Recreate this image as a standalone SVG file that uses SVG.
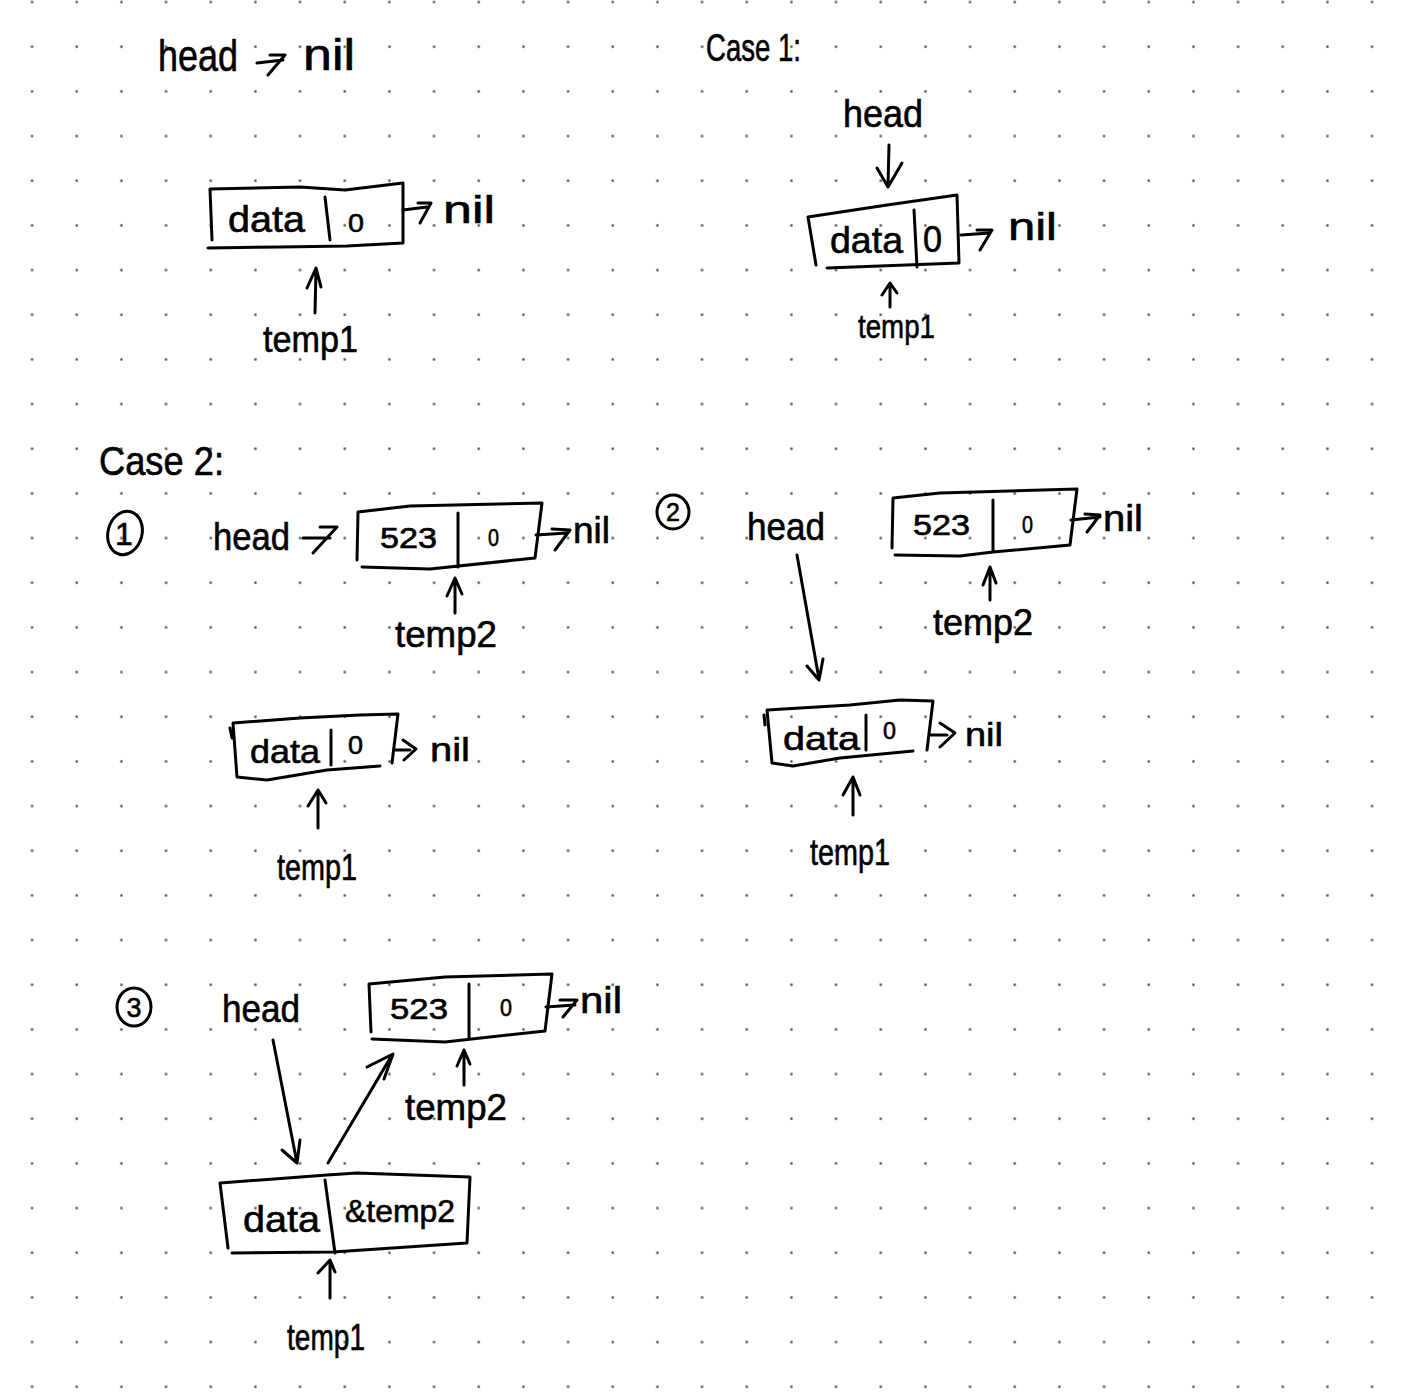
<svg xmlns="http://www.w3.org/2000/svg" width="1403" height="1396" viewBox="0 0 1403 1396">
<style>
.s{fill:none;stroke:#000;stroke-width:3;stroke-linecap:round;stroke-linejoin:round}
.t{font-family:"Liberation Sans",Arial,sans-serif;fill:#000;stroke:#000;stroke-width:0.6}
</style>
<defs>
<pattern id="dots" patternUnits="userSpaceOnUse" x="9.667" y="-20.333" width="44.667" height="44.667">
<rect x="21.3" y="21.3" width="2.2" height="2.2" fill="#3a3a3a"/>
</pattern>
</defs>
<rect width="1403" height="1396" fill="#fff"/>
<rect width="1403" height="1396" fill="url(#dots)"/>

<g id="labels">
<text class="t" x="158" y="71" font-size="44" textLength="80" lengthAdjust="spacingAndGlyphs">head</text>
<text class="t" x="303" y="70" font-size="44" textLength="52" lengthAdjust="spacingAndGlyphs">nil</text>
<text class="t" x="706" y="61" font-size="38" textLength="95" lengthAdjust="spacingAndGlyphs">Case 1:</text>
<text class="t" x="99" y="475" font-size="40" textLength="125" lengthAdjust="spacingAndGlyphs">Case 2:</text>
</g>

<g id="top-node">
<path class="s" d="M210 189 L300 187 L345 190 L403 183 L403 243 L347 246 L280 247 L208 248 M210 189 L212 240 M325 197 L330 240"/>
<text class="t" x="228" y="232" font-size="36" textLength="77" lengthAdjust="spacingAndGlyphs">data</text>
<text class="t" x="348" y="232" font-size="26" textLength="16" lengthAdjust="spacingAndGlyphs">0</text>
<text class="t" x="443" y="223" font-size="38" textLength="52" lengthAdjust="spacingAndGlyphs">nil</text>
<text class="t" x="263" y="352" font-size="36" textLength="95" lengthAdjust="spacingAndGlyphs">temp1</text>
</g>

<g id="case1-node">
<text class="t" x="843" y="127" font-size="38" textLength="80" lengthAdjust="spacingAndGlyphs">head</text>
<path class="s" d="M808 217 L887 205 L957 195 L959 263 L827 268 M808 217 L816 265 M914 210 L917 267"/>
<text class="t" x="830" y="253" font-size="36" textLength="73" lengthAdjust="spacingAndGlyphs">data</text>
<text class="t" x="923" y="252" font-size="36" textLength="19" lengthAdjust="spacingAndGlyphs">0</text>
<text class="t" x="1008" y="240" font-size="38" textLength="49" lengthAdjust="spacingAndGlyphs">nil</text>
<text class="t" x="858" y="338" font-size="34" textLength="77" lengthAdjust="spacingAndGlyphs">temp1</text>
</g>

<g id="step1">
<ellipse class="s" cx="125" cy="533" rx="17" ry="22" transform="rotate(15 125 533)"/>
<text class="t" x="124" y="545" font-size="32" text-anchor="middle">1</text>
<text class="t" x="213" y="550" font-size="38" textLength="77" lengthAdjust="spacingAndGlyphs">head</text>
<path class="s" d="M358 512 L410 506 L542 503 L535 558 L430 569 L362 567 M358 512 L357 560 M458 513 L458 567"/>
<text class="t" x="380" y="548" font-size="29" textLength="57" lengthAdjust="spacingAndGlyphs">523</text>
<text class="t" x="488" y="546" font-size="23" textLength="11" lengthAdjust="spacingAndGlyphs">0</text>
<text class="t" x="573" y="543" font-size="36" textLength="37" lengthAdjust="spacingAndGlyphs">nil</text>
<text class="t" x="395" y="647" font-size="36" textLength="102" lengthAdjust="spacingAndGlyphs">temp2</text>
<path class="s" d="M233 723 L300 718 L360 715 L398 714 L392 763 M237 777 L267 780 L327 770 L380 766 M233 723 L237 777 M331 730 L331 765 M230 728 L232 738"/>
<text class="t" x="250" y="763" font-size="34" textLength="70" lengthAdjust="spacingAndGlyphs">data</text>
<text class="t" x="348" y="754" font-size="25" textLength="15" lengthAdjust="spacingAndGlyphs">0</text>
<text class="t" x="430" y="761" font-size="34" textLength="40" lengthAdjust="spacingAndGlyphs">nil</text>
<text class="t" x="277" y="880" font-size="36" textLength="80" lengthAdjust="spacingAndGlyphs">temp1</text>
</g>

<g id="step2">
<ellipse class="s" cx="673" cy="512" rx="16" ry="17"/>
<text class="t" x="673" y="521" font-size="25" text-anchor="middle">2</text>
<text class="t" x="747" y="540" font-size="38" textLength="78" lengthAdjust="spacingAndGlyphs">head</text>
<path class="s" d="M893 498 L940 493 L1077 489 L1070 545 L993 552 L960 556 L895 555 M893 498 L892 548 M993 500 L993 552"/>
<text class="t" x="913" y="535" font-size="29" textLength="57" lengthAdjust="spacingAndGlyphs">523</text>
<text class="t" x="1022" y="533" font-size="24" textLength="11" lengthAdjust="spacingAndGlyphs">0</text>
<text class="t" x="1103" y="531" font-size="36" textLength="40" lengthAdjust="spacingAndGlyphs">nil</text>
<text class="t" x="933" y="635" font-size="36" textLength="100" lengthAdjust="spacingAndGlyphs">temp2</text>
<path class="s" d="M767 710 L850 705 L900 700 L933 701 L927 750 M772 763 L793 766 L840 758 L913 751 M767 710 L772 763 M866 715 L866 750 M764 715 L765 725"/>
<text class="t" x="783" y="750" font-size="34" textLength="77" lengthAdjust="spacingAndGlyphs">data</text>
<text class="t" x="883" y="739" font-size="24" textLength="13" lengthAdjust="spacingAndGlyphs">0</text>
<text class="t" x="965" y="746" font-size="34" textLength="38" lengthAdjust="spacingAndGlyphs">nil</text>
<text class="t" x="810" y="865" font-size="36" textLength="80" lengthAdjust="spacingAndGlyphs">temp1</text>
</g>

<g id="step3">
<ellipse class="s" cx="134" cy="1007" rx="17" ry="19"/>
<text class="t" x="134" y="1017" font-size="27" text-anchor="middle">3</text>
<text class="t" x="222" y="1022" font-size="38" textLength="78" lengthAdjust="spacingAndGlyphs">head</text>
<path class="s" d="M369 984 L445 977 L552 974 L545 1031 L445 1042 L372 1039 M369 984 L371 1032 M469 984 L469 1039"/>
<text class="t" x="390" y="1019" font-size="29" textLength="58" lengthAdjust="spacingAndGlyphs">523</text>
<text class="t" x="500" y="1016" font-size="24" textLength="12" lengthAdjust="spacingAndGlyphs">0</text>
<text class="t" x="580" y="1013" font-size="36" textLength="42" lengthAdjust="spacingAndGlyphs">nil</text>
<text class="t" x="405" y="1120" font-size="36" textLength="102" lengthAdjust="spacingAndGlyphs">temp2</text>
<path class="s" d="M220 1183 L327 1175 L357 1173 L470 1177 L467 1243 L333 1252 L232 1253 M220 1183 L228 1248 M325 1180 L335 1253"/>
<text class="t" x="243" y="1232" font-size="36" textLength="77" lengthAdjust="spacingAndGlyphs">data</text>
<text class="t" x="345" y="1222" font-size="32" textLength="110" lengthAdjust="spacingAndGlyphs">&amp;temp2</text>
<text class="t" x="287" y="1350" font-size="36" textLength="78" lengthAdjust="spacingAndGlyphs">temp1</text>
</g>

<g id="connectors">
<path class="s" d="M257 63 L283 60 M270 55 L285 55 L268 75"/>
<path class="s" d="M403 210 L427 207 M418 203 L431 203 L420 223"/>
<path class="s" d="M315 313 L316 270 M307 288 L316 268 L321 287"/>
<path class="s" d="M889 145 L888 187 M877 168 L888 187 L902 163"/>
<path class="s" d="M961 235 L990 233 M977 230 L992 230 L980 250"/>
<path class="s" d="M890 307 L890 285 M882 295 L890 283 L897 293"/>
<path class="s" d="M303 538 L330 538 M320 527 L337 527 L313 553"/>
<path class="s" d="M536 535 L567 533 M552 529 L570 530 L555 550"/>
<path class="s" d="M455 613 L455 578 M447 596 L455 578 L462 594"/>
<path class="s" d="M395 750 L410 750 M403 740 L416 749 L404 760"/>
<path class="s" d="M318 828 L318 790 M308 806 L318 790 L326 803"/>
<path class="s" d="M797 555 L819 679 M807 666 L819 680 L823 659"/>
<path class="s" d="M1071 520 L1100 517 M1085 514 L1100 515 L1087 532"/>
<path class="s" d="M990 600 L990 567 M983 585 L990 567 L996 583"/>
<path class="s" d="M930 735 L947 735 M940 723 L955 733 L940 747"/>
<path class="s" d="M853 815 L853 777 M843 795 L853 777 L860 795"/>
<path class="s" d="M273 1040 L297 1163 M282 1150 L297 1163 L300 1140"/>
<path class="s" d="M328 1163 L392 1055 M367 1067 L393 1054 L384 1079"/>
<path class="s" d="M546 1007 L575 1005 M560 1000 L577 1000 L563 1017"/>
<path class="s" d="M464 1085 L464 1050 M457 1066 L464 1050 L470 1064"/>
<path class="s" d="M330 1298 L330 1260 M318 1273 L330 1260 L335 1272"/>
</g>
</svg>
